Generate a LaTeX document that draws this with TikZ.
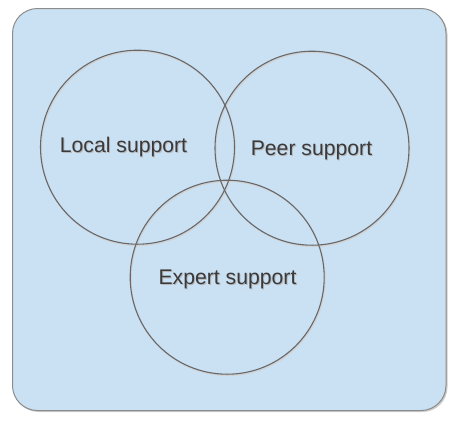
\documentclass[tikz,border=0pt]{standalone}
\usepackage{fontspec}
\setmainfont{Liberation Sans}
\begin{document}
\begin{tikzpicture}[x=1pt,y=-1pt,
  panel/.style={draw=black!45,line width=1pt,fill=panelblue,rounded corners=25pt},
  ring/.style={circle,draw=ringgrey,line width=1.1pt,minimum size=194pt,inner sep=0pt},
  ringshadow/.style={circle,draw=black!18,line width=1.4pt,minimum size=194pt,inner sep=0pt},
  lbl/.style={font=\fontsize{21.2}{25}\selectfont,text=textgrey,inner sep=0pt},
  lblshadow/.style={font=\fontsize{21.2}{25}\selectfont,text=black!28,inner sep=0pt}]
\definecolor{panelblue}{HTML}{C9E1F3}
\definecolor{ringgrey}{HTML}{66686C}
\definecolor{textgrey}{HTML}{3A3A3C}
\useasboundingbox (0,0) rectangle (455,421);
\fill[black!20,rounded corners=25pt] (13.5,9.5) rectangle (447.5,412);
\path[panel] (12.5,8.5) rectangle (446,410.5);
% ring shadows
\node[ringshadow] (ls) at (138.3,148.3) {};
\node[ringshadow] (ps) at (312.8,149.3) {};
\node[ringshadow] (es) at (228,278.3) {};
% rings
\node[ring] (local) at (137.5,147.2) {};
\node[ring] (peer) at (312,148.2) {};
\node[ring] (expert) at (227.2,277.2) {};
% label shadows
\node[lblshadow] (lts) at (124.5,148.5) {Local support};
\node[lblshadow] (pts) at (312.5,151.5) {Peer support};
\node[lblshadow] (ets) at (228.5,280.5) {Expert support};
% labels
\node[lbl] (lt) at (123.5,147.2) {Local support};
\node[lbl] (pt) at (311.5,150.2) {Peer support};
\node[lbl] (et) at (227.5,279.2) {Expert support};
\end{tikzpicture}
\end{document}
